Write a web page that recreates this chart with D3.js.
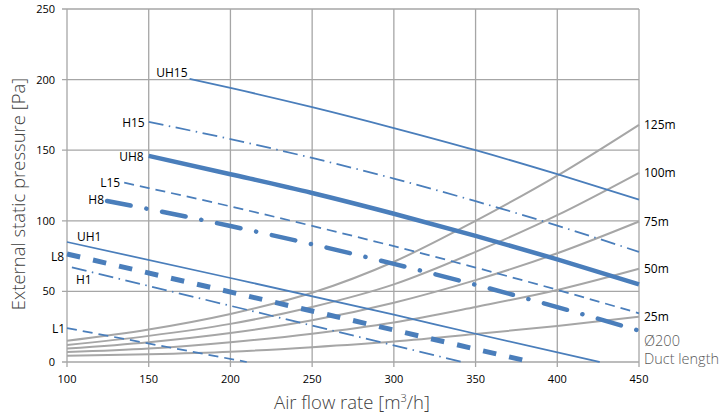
<!DOCTYPE html>
<html><head><meta charset="utf-8">
<script src="https://cdn.jsdelivr.net/npm/d3@7/dist/d3.min.js"></script>
<style>
html,body{margin:0;padding:0;background:#fff;}
svg{display:block;font-family:"Open Sans","Noto Sans",sans-serif;}
</style></head>
<body>
<svg id="c" width="722" height="419"></svg>
<script>
// ---- data ----
const xTicks = [100,150,200,250,300,350,400,450];
const yTicks = [0,50,100,150,200,250];
const ductX = [100,150,200,250,300,350,400,450];
const duct25  = [4.5, 5.5, 7.3, 10.5, 14.5, 19.8, 25.5, 32];
const duct50  = [7, 9.5, 14, 20, 28, 39, 51, 66];
const duct75  = [9.5, 14, 20.5, 29.5, 42, 58, 77, 99.5];
const duct100 = [12, 18.5, 27, 39, 55, 78, 104, 134];
const duct125 = [15, 23, 34, 49, 71, 100, 132, 168];
const ductNames = ["25m","50m","75m","100m","125m"];

const fanNames = ["UH15","H15","UH8","L15","H8","UH1","L8","H1","L1"];
const fanFlow = [
  [175, 200, 250, 300, 350, 400, 450],
  [150, 200, 250, 300, 350, 400, 450],
  [150, 200, 250, 300, 350, 400, 450],
  [135, 150, 200, 250, 300, 350, 400, 450],
  [124.5, 150, 200, 250, 300, 350, 400, 450],
  [100, 200, 300, 350, 426],
  [100, 384],
  [103, 342],
  [100, 210]
];
const fanPres = [
  [200.5, 194.1, 180.5, 165.7, 150, 133, 115],
  [170, 157.9, 144.5, 129.9, 113.9, 96.6, 78],
  [146, 133, 119.7, 105, 89.3, 72.7, 55],
  [127, 123.2, 110.2, 96.4, 82, 66.9, 51.1, 34.5],
  [114, 108.3, 96.3, 83.4, 69.5, 54.7, 38.9, 22.2],
  [85, 59.5, 33.5, 20, 0],
  [76.5, 0],
  [67, 0],
  [24, 0]
];

// ---- layout / style ----
const x = d3.scaleLinear().domain([100,450]).range([67,639]);
const y = d3.scaleLinear().domain([0,250]).range([362,9]);
const svg = d3.select("#c");
const blue = "#4a7ebb", grey = "#a6a6a6", gridC = "#a6a6a6";

const fanStyle = {
  UH15:{w:1.75,dash:null},
  H15:{w:1.75,dash:"15,5.5,1.5,5.5"},
  UH8:{w:4.5,dash:null},
  L15:{w:1.75,dash:"10,6"},
  H8:{w:4.5,dash:"24,16,0.1,16",cap:"round"},
  UH1:{w:1.75,dash:null},
  L8:{w:5,dash:"13.5,13.2"},
  H1:{w:1.75,dash:"15,5.5,1.5,5.5"},
  L1:{w:1.75,dash:"10,6"}
};
const labelOff = {
  UH15:{dx:-2,dy:-2,a:"end"}, H15:{dx:-4,dy:5,a:"end"}, UH8:{dx:-5,dy:5,a:"end"},
  L15:{dx:-4,dy:4,a:"end"}, H8:{dx:-3,dy:3,a:"end"}, UH1:{dx:10,dy:-1,a:"start"},
  L8:{dx:-3,dy:7,a:"end"}, H1:{dx:4,dy:17,a:"start"}, L1:{dx:-2,dy:5,a:"end"}
};

// grid
const g = svg.append("g");
g.selectAll("line.v").data(xTicks).join("line")
  .attr("x1",d=>x(d)).attr("x2",d=>x(d)).attr("y1",y(250)).attr("y2",y(0)+5)
  .attr("stroke",gridC).attr("stroke-width",1.3);
g.selectAll("line.h").data(yTicks).join("line")
  .attr("x1",x(100)-5).attr("x2",x(450)).attr("y1",d=>y(d)).attr("y2",d=>y(d))
  .attr("stroke",gridC).attr("stroke-width",1.3);

// tick labels
svg.append("g").selectAll("text").data(xTicks).join("text")
  .attr("x",d=>x(d)).attr("y",383).attr("text-anchor","middle")
  .attr("font-size",11).attr("fill","#000").text(d=>d);
svg.append("g").selectAll("text").data(yTicks).join("text")
  .attr("x",55).attr("y",d=>y(d)+4).attr("text-anchor","end")
  .attr("font-size",11).attr("fill","#000").text(d=>d);

// duct curves
const ducts = [duct25,duct50,duct75,duct100,duct125];
const line = d3.line().x(d=>x(d[0])).y(d=>y(d[1])).curve(d3.curveMonotoneX);
ducts.forEach((arr,i)=>{
  const pts = ductX.map((v,j)=>[v,arr[j]]);
  svg.append("path").attr("d",line(pts)).attr("fill","none")
    .attr("stroke",grey).attr("stroke-width",2);
  svg.append("text").attr("x",x(450)+5).attr("y",y(arr[arr.length-1])+4.5)
    .attr("font-size",12).attr("fill","#000").text(ductNames[i]);
});

// fan lines
fanNames.forEach((n,i)=>{
  const pts = fanFlow[i].map((v,j)=>[v,fanPres[i][j]]);
  const s = fanStyle[n];
  const p = svg.append("path").attr("d",line(pts)).attr("fill","none")
    .attr("stroke",blue).attr("stroke-width",s.w).attr("stroke-linecap",s.cap||"butt");
  if(s.dash) p.attr("stroke-dasharray",s.dash);
  const o = labelOff[n];
  svg.append("text").attr("x",x(pts[0][0])+o.dx).attr("y",y(pts[0][1])+o.dy)
    .attr("text-anchor",o.a).attr("font-size",12).attr("fill","#000").text(n);
});

// right notes
svg.append("text").attr("x",644).attr("y",346).attr("font-size",14.5)
  .attr("font-weight",300).attr("fill","#595959").text("Ø200");
svg.append("text").attr("x",644).attr("y",364).attr("font-size",14.5)
  .attr("font-weight",300).attr("fill","#595959").text("Duct length");

// axis titles
const xt = svg.append("text").attr("x",352).attr("y",409).attr("text-anchor","middle")
  .attr("font-size",18.5).attr("font-weight",300).attr("fill","#404040");
xt.append("tspan").text("Air flow rate [m");
xt.append("tspan").attr("font-size",11).attr("dy",-7).text("3");
xt.append("tspan").attr("dy",7).text("/h]");
svg.append("text").attr("transform","translate(25,194) rotate(-90)")
  .attr("text-anchor","middle").attr("font-size",18.5).attr("font-weight",300)
  .attr("fill","#404040").text("External static pressure [Pa]");
</script>
</body></html>
